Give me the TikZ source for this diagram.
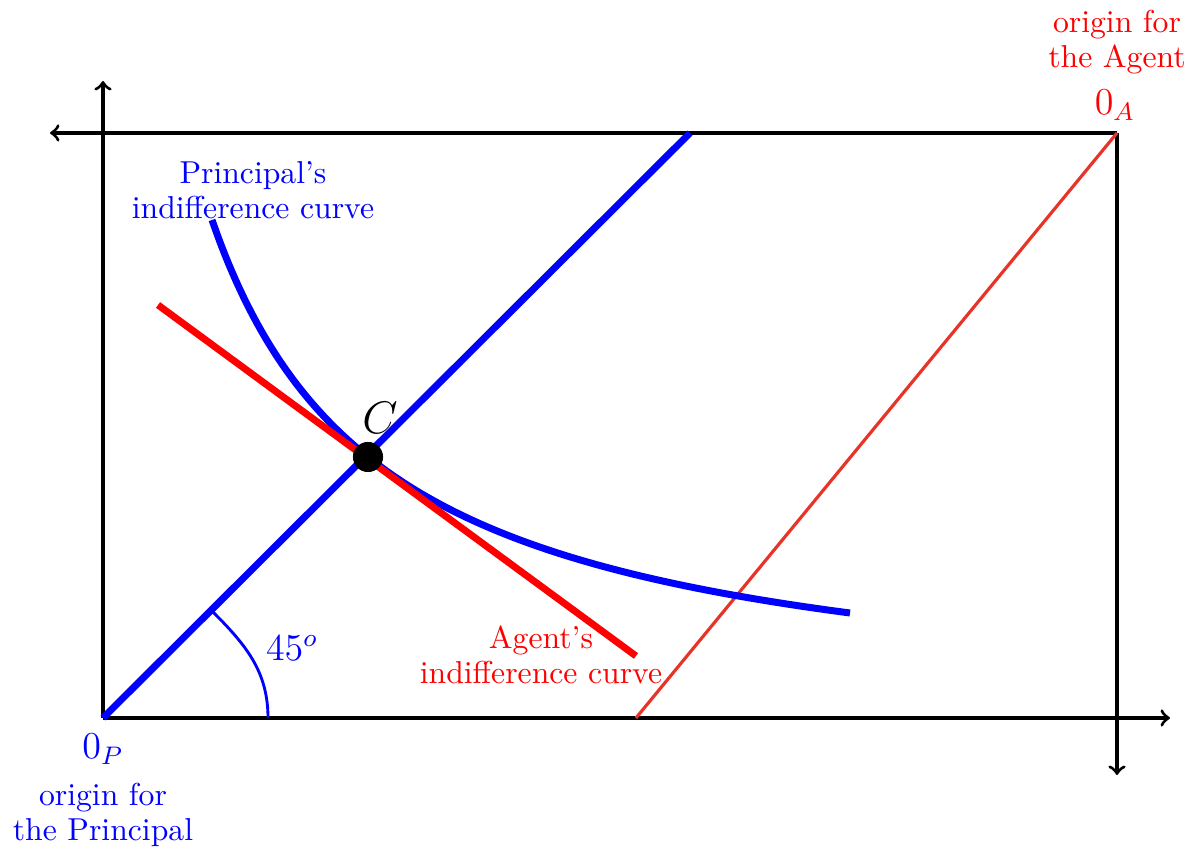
\documentclass[tikz,border=0pt]{standalone}
\usepackage{tikz}
\definecolor{thinred}{RGB}{232,52,40}
\begin{document}
\begin{tikzpicture}[x=0.3155pt,y=0.3155pt,
  axis/.style={line width=1pt,black},
  axisarrow/.style={axis,->},
  thickblue/.style={line width=2.2pt,blue},
  thickred/.style={line width=2.2pt,red},
  lbl/.style={align=center,inner sep=0pt,font=\fontsize{10}{11}\selectfont}
]
\useasboundingbox (0,0) rectangle (1192,849);
% corner coordinates
\coordinate (OP) at (103,131);
\coordinate (OA) at (1117,716);
\coordinate (BR) at (1170,131);
\coordinate (LT) at (103,768);
\coordinate (TL) at (50,716);
\coordinate (RB) at (1117,74);
\coordinate (BL) at (690,716);
\coordinate (RS) at (158,544);
\coordinate (RE) at (636,193);
\coordinate (TR) at (636,131);
\coordinate (ArcS) at (268,131);
\coordinate (ArcE) at (211,239);
% axes
\draw[axisarrow] (OP) -- (BR);
\draw[axisarrow] (OP) -- (LT);
\draw[axisarrow] (OA) -- (TL);
\draw[axisarrow] (OA) -- (RB);
% thin red line
\draw[line width=1pt,thinred] (TR) -- (OA);
% 45 degree line
\draw[thickblue] (OP) -- (BL);
% angle arc
\draw[line width=0.9pt,blue] (ArcS) to[out=90,in=-45] (ArcE);
\node[lbl,blue,font=\large] (ang) at (292,201) {$45^o$};
% principal's indifference curve
\draw[thickblue,domain=212:850,samples=80,smooth] plot (\x,{129.6+862.46/((\x-39.3)/100)});
% agent's indifference curve
\draw[thickred] (RS) -- (RE);
% point C
\node[circle,fill=black,inner sep=0pt,minimum size=9.5pt] (C) at (368,392) {};
\node[font=\Large,inner sep=0pt] (Cl) at (380,431) {$C$};
% labels
\node[lbl,blue] (pic) at (253,659) {Principal's\\indifference curve};
\node[lbl,red] (aic) at (541,194) {Agent's\\indifference curve};
\node[lbl,red] (oa) at (1117,807) {origin for\\the Agent};
\node[red,font=\large,inner sep=0pt] (OAl) at (1115,744) {$0_A$};
\node[blue,font=\large,inner sep=0pt] (OPl) at (103,100) {$0_P$};
\node[lbl,blue] (op) at (103,34) {origin for\\the Principal};
\end{tikzpicture}
\end{document}
